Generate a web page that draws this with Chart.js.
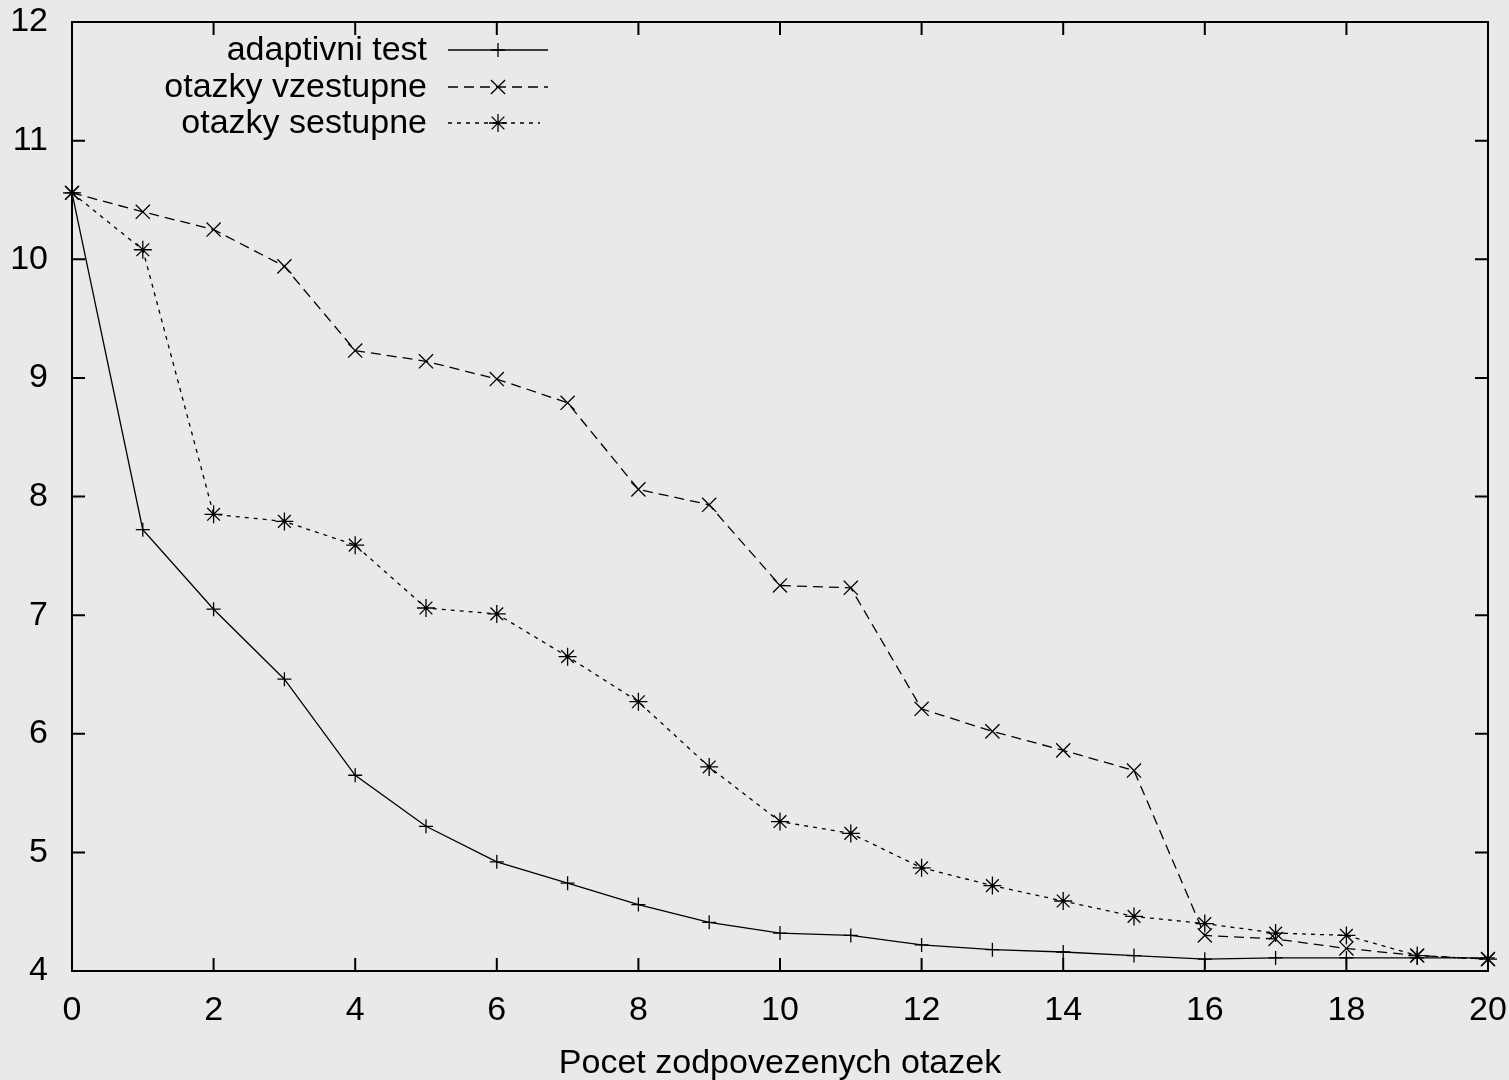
<!DOCTYPE html>
<html>
<head>
<meta charset="utf-8">
<script src="https://cdn.jsdelivr.net/npm/chart.js"></script>
<style>
  body { margin: 0; background: #e8eaea; }
  #wrap { width: 1509px; height: 1080px; }
</style>
</head>
<body>
<div id="wrap"><canvas id="chart0" width="1509" height="1080"></canvas></div>
<script>
// pocet zodpovezenych otazek (x)
var otazky = [0, 1, 2, 3, 4, 5, 6, 7, 8, 9, 10, 11, 12, 13, 14, 15, 16, 17, 18, 19, 20];
var adaptivni = [10.56, 7.72, 7.05, 6.46, 5.65, 5.22, 4.92, 4.74, 4.56, 4.41, 4.32, 4.30, 4.22, 4.18, 4.16, 4.13, 4.10, 4.11, 4.11, 4.11, 4.11];
var vzestupne = [10.56, 10.40, 10.25, 9.94, 9.23, 9.14, 8.99, 8.79, 8.06, 7.93, 7.25, 7.23, 6.21, 6.02, 5.86, 5.69, 4.30, 4.27, 4.19, 4.13, 4.10];
var sestupne = [10.56, 10.08, 7.85, 7.79, 7.59, 7.06, 7.01, 6.65, 6.27, 5.72, 5.26, 5.16, 4.87, 4.72, 4.59, 4.46, 4.40, 4.32, 4.30, 4.13, 4.10];
var xTicks = [0, 2, 4, 6, 8, 10, 12, 14, 16, 18, 20];
var yTicks = [4, 5, 6, 7, 8, 9, 10, 11, 12];

var FONT = '"Liberation Sans", Arial, Helvetica, sans-serif';

function pts(vals) {
    return vals.map(function (v, i) { return { x: otazky[i], y: v }; });
}

// paper-ish backdrop
var backdrop = {
    id: 'backdrop',
    beforeDraw: function (chart) {
        var c = chart.ctx;
        c.save();
        c.fillStyle = '#e8eaea';
        c.fillRect(0, 0, chart.width, chart.height);
        c.restore();
    }
};

// gnuplot style frame with inward ticks on all sides
var frame = {
    id: 'frame',
    beforeDatasetsDraw: function (chart) {
        var c = chart.ctx, a = chart.chartArea;
        var xs = chart.scales.x, ys = chart.scales.y, tl = 13;
        c.save();
        c.strokeStyle = '#000';
        c.lineWidth = 2;
        c.strokeRect(a.left, a.top, a.right - a.left, a.bottom - a.top);
        c.beginPath();
        xTicks.forEach(function (t) {
            var px = xs.getPixelForValue(t);
            c.moveTo(px, a.bottom); c.lineTo(px, a.bottom - tl);
            c.moveTo(px, a.top); c.lineTo(px, a.top + tl);
        });
        yTicks.forEach(function (t) {
            var py = ys.getPixelForValue(t);
            c.moveTo(a.left, py); c.lineTo(a.left + tl, py);
            c.moveTo(a.right, py); c.lineTo(a.right - tl, py);
        });
        c.stroke();
        c.restore();
    }
};

// key: text right aligned, sample line with marker on the right
var key = {
    id: 'key',
    afterDraw: function (chart) {
        var c = chart.ctx;
        var rows = [50, 87, 123];
        c.save();
        c.font = '34px ' + FONT;
        c.textAlign = 'right';
        c.textBaseline = 'middle';
        chart.data.datasets.forEach(function (ds, i) {
            var y = rows[i];
            c.fillStyle = '#000';
            c.fillText(ds.label, 427, y + 1);
            c.strokeStyle = '#000';
            c.lineWidth = ds.borderWidth;
            c.setLineDash(ds.borderDash || []);
            c.beginPath();
            c.moveTo(448, y); c.lineTo(i == 2 ? 540 : 548, y);
            c.stroke();
            c.setLineDash([]);
            Chart.helpers.drawPoint(c, { pointStyle: ds.pointStyle, radius: ds.pointRadius, rotation: 0, borderWidth: ds.pointBorderWidth }, 498, y);
        });
        c.restore();
    }
};

var config = {
    type: 'line',
    data: {
        datasets: [{
            label: 'adaptivni test',
            data: pts(adaptivni),
            borderColor: '#000',
            backgroundColor: 'transparent',
            borderWidth: 1.3,
            pointStyle: 'cross',
            pointRadius: 7,
            pointBorderWidth: 1.3,
            pointBorderColor: '#000',
            clip: false
        }, {
            label: 'otazky vzestupne',
            data: pts(vzestupne),
            borderColor: '#000',
            backgroundColor: 'transparent',
            borderWidth: 1.3,
            borderDash: [10, 6],
            pointStyle: 'crossRot',
            pointRadius: 10,
            pointBorderWidth: 1.3,
            pointBorderColor: '#000',
            clip: false
        }, {
            label: 'otazky sestupne',
            data: pts(sestupne),
            borderColor: '#000',
            backgroundColor: 'transparent',
            borderWidth: 1.3,
            borderDash: [4, 5],
            pointStyle: 'star',
            pointRadius: 9,
            pointBorderWidth: 1.3,
            pointBorderColor: '#000',
            clip: false
        }]
    },
    options: {
        responsive: false,
        animation: false,
        events: [],
        layout: { padding: { left: 0, top: 22, right: 21, bottom: 0 } },
        plugins: { legend: { display: false }, tooltip: { enabled: false } },
        scales: {
            x: {
                type: 'linear', min: 0, max: 20,
                afterBuildTicks: function (s) { s.ticks = xTicks.map(function (v) { return { value: v }; }); },
                afterFit: function (s) { s.height = 109; s.paddingLeft = 0; s.paddingRight = 0; },
                grid: { display: false, drawTicks: false },
                border: { display: false },
                ticks: { color: '#000', padding: 19, maxRotation: 0, font: { family: FONT, size: 34 } },
                title: { display: true, text: 'Pocet zodpovezenych otazek', color: '#000', padding: { top: 0, bottom: -4 }, font: { family: FONT, size: 34 } }
            },
            y: {
                type: 'linear', min: 4, max: 12,
                afterBuildTicks: function (s) { s.ticks = yTicks.map(function (v) { return { value: v }; }); },
                afterFit: function (s) { s.width = 72; s.paddingTop = 0; s.paddingBottom = 0; },
                grid: { display: false, drawTicks: false },
                border: { display: false },
                ticks: { color: '#000', padding: 24, font: { family: FONT, size: 34 } }
            }
        }
    },
    plugins: [backdrop, frame, key]
};

new Chart(document.getElementById('chart0'), config);
</script>
</body>
</html>
